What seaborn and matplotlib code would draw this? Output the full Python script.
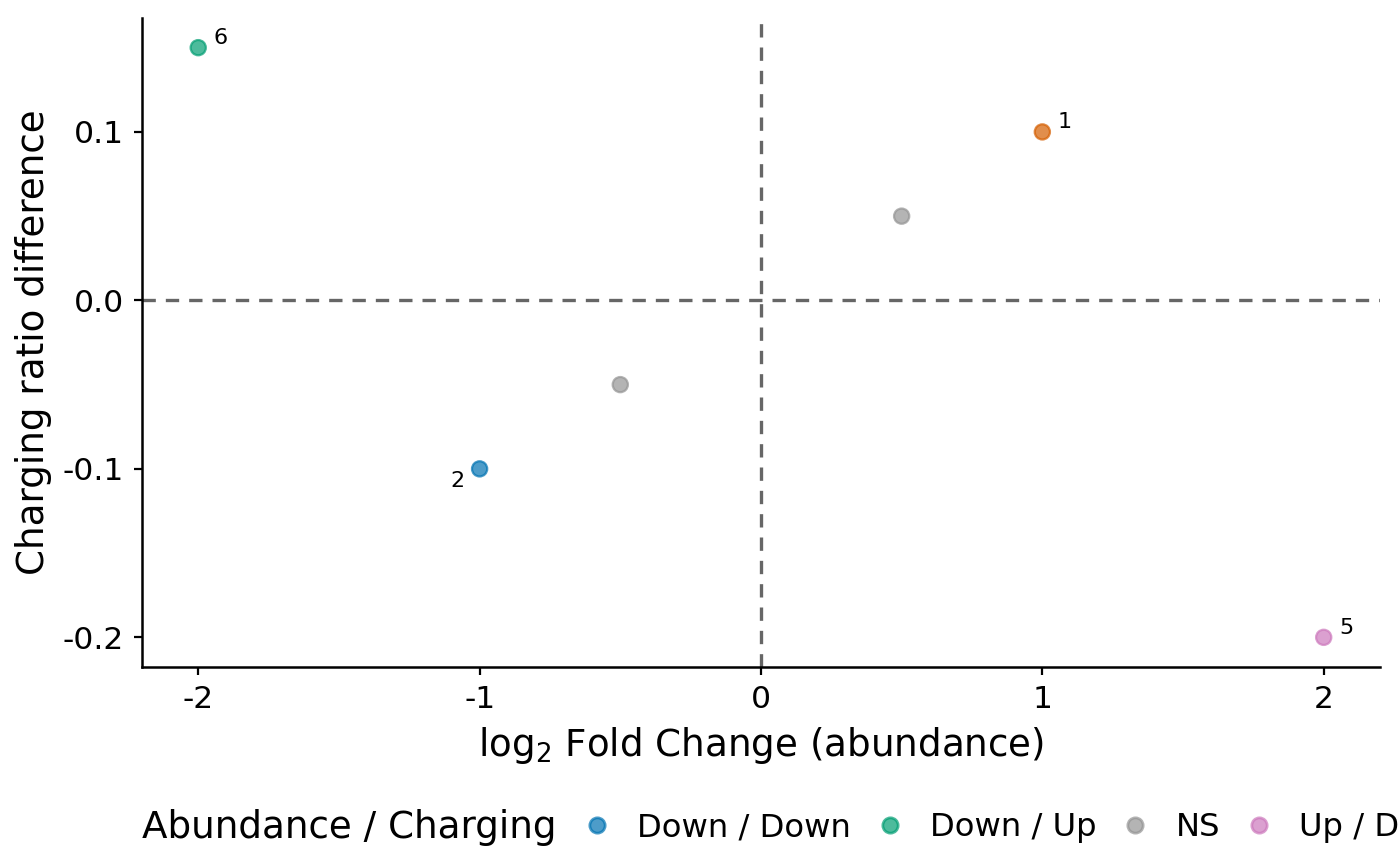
import pandas as pd
import matplotlib.pyplot as plt
import seaborn as sns
from matplotlib.lines import Line2D

# Data
log2fc = [1, -1, 0.5, -0.5, 2, -2]
charging_diff = [0.1, -0.1, 0.05, -0.05, -0.2, 0.15]
point_ids = ['1', '2', '3', '4', '5', '6']
groups = ['Up / Up', 'Down / Down', 'NS', 'NS', 'Up / Down', 'Down / Up']
show_label = [True, True, False, False, True, True]

legend_order = ['Down / Down', 'Down / Up', 'NS', 'Up / Down', 'Up / Up']
colors = {
    'Down / Down': '#0173b2',
    'Down / Up': '#029e73',
    'NS': '#949494',
    'Up / Down': '#cc78bc',
    'Up / Up': '#d55e00',
}

df = pd.DataFrame({'x': log2fc, 'y': charging_diff, 'id': point_ids,
                   'group': groups, 'label': show_label})

sns.set_style('ticks')
plt.rcParams['font.family'] = ['DejaVu Sans']
plt.rcParams['axes.unicode_minus'] = False
plt.rcParams['text.color'] = 'black'
plt.rcParams['axes.labelcolor'] = 'black'
plt.rcParams['xtick.color'] = 'black'
plt.rcParams['ytick.color'] = 'black'
plt.rcParams['axes.edgecolor'] = 'black'

fig = plt.figure(figsize=(7, 4.33), dpi=200)
ax = fig.add_axes([0.1014, 0.230, 0.8843, 0.749])

ax.axhline(0, color='#666666', linestyle=(0, (4, 3)), linewidth=1.2, zorder=1)
ax.axvline(0, color='#666666', linestyle=(0, (4, 3)), linewidth=1.2, zorder=1)

sns.scatterplot(data=df, x='x', y='y', hue='group', palette=colors, s=30,
                alpha=0.7, edgecolor=df['group'].map(colors), linewidth=0.8,
                legend=False, ax=ax, zorder=3)

# point labels (2 sits lower-left, the others upper-right)
for _, r in df[df['label']].iterrows():
    if r['id'] == '2':
        ax.annotate(r['id'], (r['x'], r['y']), xytext=(-5.5, -4.5), textcoords='offset points',
                    ha='right', va='center', fontsize=8)
    else:
        ax.annotate(r['id'], (r['x'], r['y']), xytext=(5.5, 3.5), textcoords='offset points',
                    ha='left', va='center', fontsize=8)

ax.set_xlim(-2.2, 2.2)
ax.set_ylim(-0.2175, 0.1675)
ax.set_xticks([-2, -1, 0, 1, 2])
ax.set_yticks([-0.2, -0.1, 0.0, 0.1])
ax.set_yticklabels(['-0.2', '-0.1', '0.0', '0.1'])
ax.tick_params(labelsize=11.3, length=3, width=0.8)
ax.set_xlabel('log$_2$ Fold Change (abundance)', fontsize=13.4)
ax.set_ylabel('Charging ratio difference', fontsize=13.4)
sns.despine(ax=ax)
for s in ['left', 'bottom']:
    ax.spines[s].set_linewidth(0.9)

# legend at the bottom with title inline
fig.text(0.1014, 0.044, 'Abundance / Charging', fontsize=13.4, va='center', ha='left')
handles = [Line2D([], [], marker='o', linestyle='', markersize=5.5, alpha=0.7,
                  markerfacecolor=colors[g], markeredgecolor=colors[g]) for g in legend_order]
fig.legend(handles, legend_order, loc='center left', bbox_to_anchor=(0.415, 0.044),
           ncol=5, frameon=False, fontsize=11.6, handlelength=1.0, handletextpad=0.75,
           columnspacing=0.7, borderaxespad=0, borderpad=0)

fig.savefig('out.png', dpi=200)
